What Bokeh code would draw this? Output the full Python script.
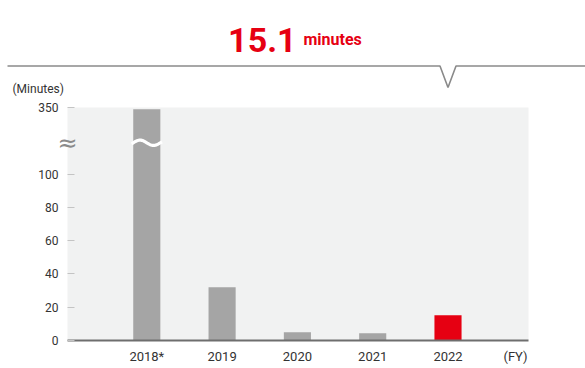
import math
from bokeh.plotting import figure
from bokeh.models import Range1d, FixedTicker, LinearAxis
from bokeh.models import Label
from bokeh.layouts import column
from bokeh.embed import file_html
from bokeh.resources import INLINE

# ---------------- data ----------------
years = ["2018*", "2019", "2020", "2021", "2022"]
minutes = [343, 32, 5, 4.4, 15.1]
highlight_year = "2022"
headline_value = "15.1"
headline_unit = "minutes"
y_unit_label = "(Minutes)"
x_unit_label = "(FY)"
y_tick_values = [0, 20, 40, 60, 80, 100, 350]

# broken axis: linear up to 100, then 100..350 compressed
axis_linear_max = 100
axis_top = 350
compressed_span = 40.0
break_level = 118.8  # position of break marks in scale units


def scale(v):
    if v <= axis_linear_max:
        return v
    return axis_linear_max + (v - axis_linear_max) * compressed_span / (axis_top - axis_linear_max)


# ---------------- style ----------------
RED = "#e60012"
GRAY_BAR = "#a5a5a5"
BG = "#f1f2f2"
TEXT = "#333333"
FONT = "Roboto"

W = 585
TOP_H = 98
BOT_H = 270
B_LEFT, B_RIGHT, B_TOP, B_BOTTOM = 67, 57, 9, 28
pad_left, pad_right = 1.053, 1.069
bar_width = 0.36

idx = list(range(len(years)))
x0 = -pad_left
x1 = (len(years) - 1) + pad_right
frame_w = W - B_LEFT - B_RIGHT
ppu = frame_w / (x1 - x0)

# ---------------- chart ----------------
p = figure(width=W, height=BOT_H, output_backend="svg", toolbar_location=None,
           x_range=Range1d(x0, x1), y_range=Range1d(0, scale(axis_top)),
           min_border_left=B_LEFT, min_border_right=B_RIGHT,
           min_border_top=B_TOP, min_border_bottom=B_BOTTOM)
p.frame_align = False
p.background_fill_color = BG
p.border_fill_color = "white"
p.outline_line_color = None
p.grid.visible = False

colors = [RED if y == highlight_year else GRAY_BAR for y in years]
p.vbar(x=idx, top=[scale(v) for v in minutes], bottom=0, width=bar_width,
       fill_color=colors, line_color=None)

# white break wave across bars taller than the break
n = 40
for i, v in zip(idx, minutes):
    if scale(v) > break_level:
        ts = [-0.06 + 1.12 * k / (n - 1) for k in range(n)]
        xs = [i - bar_width / 2 + bar_width * t for t in ts]
        ys = [break_level + 1.6 * math.sin(2 * math.pi * t) for t in ts]
        p.line(xs, ys, line_color="white", line_width=3.2)

# x axis (with the unit label at its right end)
fy_pos = x1 - 13 / ppu
x_ticks = idx + [fy_pos]
x_labels = years + [x_unit_label]
p.xaxis.ticker = FixedTicker(ticks=x_ticks)
p.xaxis.major_label_overrides = {t: s for t, s in zip(x_ticks, x_labels)}
p.xaxis.major_tick_in = 0
p.xaxis.major_tick_out = 0
p.xaxis.minor_tick_line_color = None
p.xaxis.axis_line_color = "#6e6e6e"
p.xaxis.axis_line_width = 2
p.xaxis.major_label_text_font = FONT
p.xaxis.major_label_text_font_size = "13px"
p.xaxis.major_label_text_color = TEXT
p.xaxis.major_label_standoff = 8

# y axis
ticks_scaled = [scale(v) for v in y_tick_values]
p.yaxis.ticker = FixedTicker(ticks=ticks_scaled)
p.yaxis.major_label_overrides = {s: str(v) for s, v in zip(ticks_scaled, y_tick_values)}
p.yaxis.axis_line_color = None
p.yaxis.major_tick_in = 7
p.yaxis.major_tick_out = 0
p.yaxis.major_tick_line_color = "#c4c4c4"
p.yaxis.minor_tick_line_color = None
p.yaxis.major_label_text_font = FONT
p.yaxis.major_label_text_font_size = "12px"
p.yaxis.major_label_text_color = TEXT
p.yaxis.major_label_standoff = 9

# axis-break mark, drawn as the label of a second, bare left axis
brk = LinearAxis(ticker=FixedTicker(ticks=[break_level]),
                 major_label_overrides={break_level: "≈"})
brk.axis_line_color = None
brk.major_tick_line_color = None
brk.minor_tick_line_color = None
brk.major_label_text_font = "DejaVu Sans"
brk.major_label_text_font_size = "24px"
brk.major_label_text_color = "#8a8a8a"
brk.major_label_standoff = -48
p.add_layout(brk, "left")

# ---------------- header ----------------
top_x0 = x0 - B_LEFT / ppu
top_x1 = x1 + B_RIGHT / ppu
h = figure(width=W, height=TOP_H, output_backend="svg", toolbar_location=None,
           x_range=Range1d(top_x0, top_x1), y_range=Range1d(0, TOP_H),
           x_axis_type=None, y_axis_type=None,
           min_border=0, min_border_left=0, min_border_right=0,
           min_border_top=0, min_border_bottom=0)
h.frame_align = False
h.outline_line_color = None
h.grid.visible = False
h.background_fill_color = "white"
h.border_fill_color = "white"

hi = years.index(highlight_year)
notch_half = 8 / ppu
line_y, notch_y = 32.5, 11
h.line([top_x0 + 7 / ppu, hi - notch_half, hi, hi + notch_half, top_x1],
       [line_y, line_y, notch_y, line_y, line_y], line_color="#8a8a8a", line_width=1.6)

h.add_layout(Label(x=296, y=59, x_units="screen", y_units="screen", text=headline_value,
                   text_align="right", text_baseline="alphabetic", text_font=FONT,
                   text_font_style="bold", text_font_size="34px", text_color=RED))
h.add_layout(Label(x=303, y=59, x_units="screen", y_units="screen", text=headline_unit,
                   text_align="left", text_baseline="alphabetic", text_font=FONT,
                   text_font_style="bold", text_font_size="16px", text_color=RED))
h.add_layout(Label(x=12, y=10, x_units="screen", y_units="screen", text=y_unit_label,
                   text_align="left", text_baseline="middle", text_font=FONT,
                   text_font_size="12px", text_color=TEXT))

layout = column(h, p, spacing=0)
open("out.html", "w").write(file_html(layout, INLINE))
